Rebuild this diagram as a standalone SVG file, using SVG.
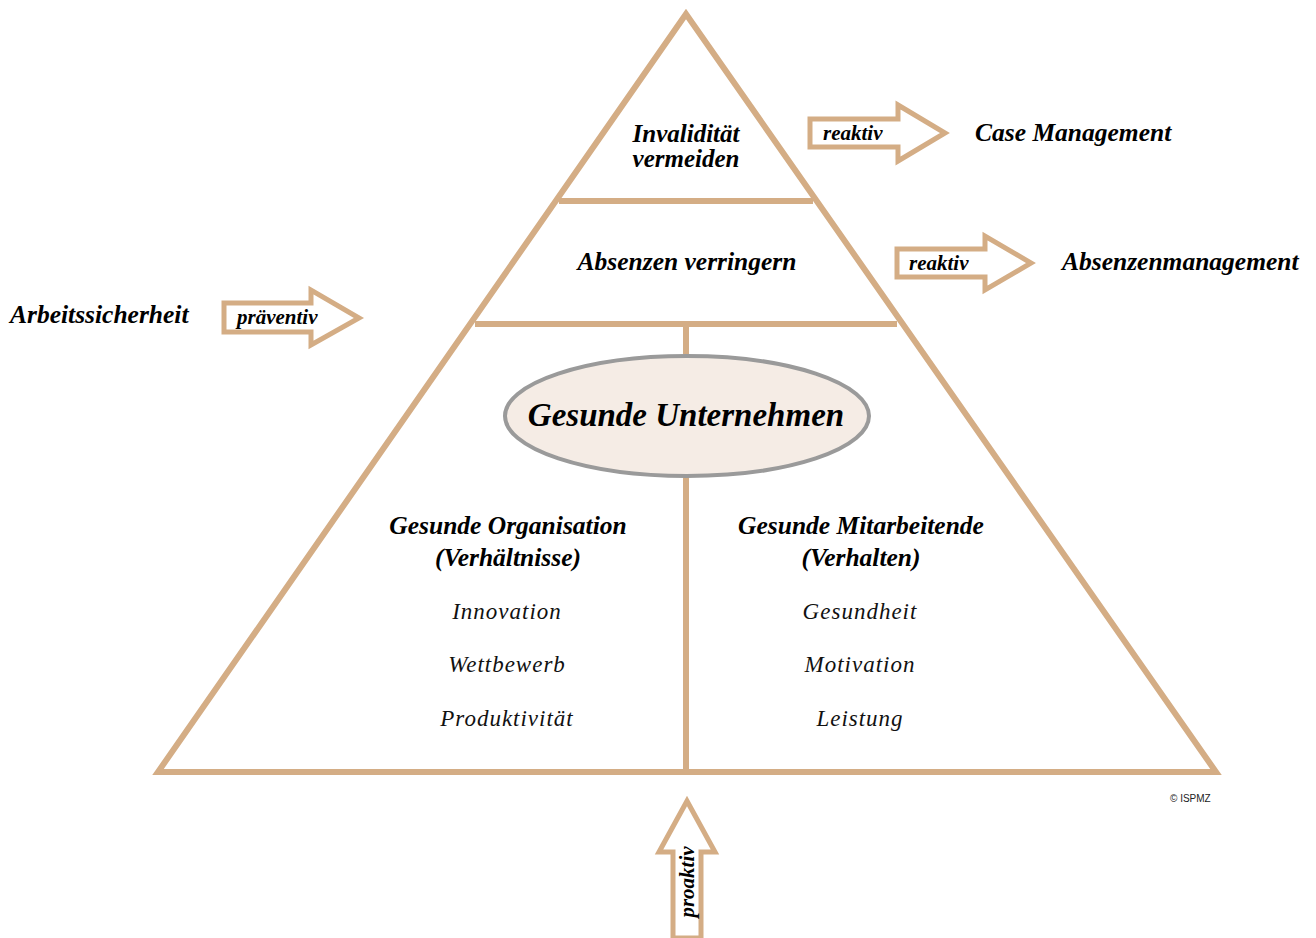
<svg xmlns="http://www.w3.org/2000/svg" width="1316" height="938" viewBox="0 0 1316 938">
<style>
.ln{fill:none;stroke:#D4AD85;stroke-width:6;stroke-linejoin:miter}
.arr{fill:#fff;stroke:#D4AD85;stroke-width:5;stroke-linejoin:miter}
.t{font-family:"Liberation Serif",serif;font-style:italic;font-weight:bold;fill:#000}
.r{font-family:"Liberation Serif",serif;font-style:italic;fill:#111;font-size:23px;letter-spacing:1px;text-anchor:middle}
</style>
<rect width="1316" height="938" fill="#fff"/>
<g id="connectors">
<polygon class="ln" points="686,14 158,772 1216,772"/>
<line class="ln" x1="559" y1="201" x2="813" y2="201"/>
<line class="ln" x1="475" y1="324" x2="897" y2="324"/>
<line class="ln" x1="686" y1="324" x2="686" y2="358"/>
<line class="ln" x1="686" y1="476" x2="686" y2="772"/>
</g>
<g id="top">
<text class="t" font-size="25" text-anchor="middle" x="686" y="142">Invalidität</text>
<text class="t" font-size="25" text-anchor="middle" x="686" y="167">vermeiden</text>
</g>
<g id="middle">
<text class="t" font-size="25.5" text-anchor="middle" x="687" y="270">Absenzen verringern</text>
</g>
<g id="center">
<ellipse cx="687" cy="416" rx="182" ry="60" fill="#F5ECE5" stroke="#9A9A9A" stroke-width="4"/>
<text class="t" font-size="33" text-anchor="middle" x="686" y="426">Gesunde Unternehmen</text>
</g>
<g id="left-col">
<text class="t" font-size="25.5" text-anchor="middle" x="508" y="534">Gesunde Organisation</text>
<text class="t" font-size="25.5" text-anchor="middle" x="508" y="566">(Verhältnisse)</text>
<text class="r" x="507" y="619">Innovation</text>
<text class="r" x="507" y="672">Wettbewerb</text>
<text class="r" x="507" y="726">Produktivität</text>
</g>
<g id="right-col">
<text class="t" font-size="25.5" text-anchor="middle" x="861" y="534">Gesunde Mitarbeitende</text>
<text class="t" font-size="25.5" text-anchor="middle" x="861" y="566">(Verhalten)</text>
<text class="r" x="860" y="619">Gesundheit</text>
<text class="r" x="860" y="672">Motivation</text>
<text class="r" x="860" y="726">Leistung</text>
</g>
<g id="arrow-reaktiv-1">
<polygon class="arr" points="810,119 898,119 898,105 945,133 898,161 898,147 810,147"/>
<text class="t" font-size="21" x="823" y="140">reaktiv</text>
</g>
<g id="case-management">
<text class="t" font-size="25.5" x="975" y="141">Case Management</text>
</g>
<g id="arrow-reaktiv-2">
<polygon class="arr" points="897,249 985,249 985,236 1031,263 985,290 985,277 897,277"/>
<text class="t" font-size="21" x="909" y="270">reaktiv</text>
</g>
<g id="absenzenmanagement">
<text class="t" font-size="25.5" x="1062" y="270">Absenzenmanagement</text>
</g>
<g id="arbeitssicherheit">
<text class="t" font-size="25.5" x="10" y="323">Arbeitssicherheit</text>
</g>
<g id="arrow-praeventiv">
<polygon class="arr" points="224,303 311,303 311,290 359,318 311,345 311,332 224,332"/>
<text class="t" font-size="21" x="237" y="324">präventiv</text>
</g>
<g id="arrow-proaktiv">
<polygon class="arr" points="673,938 673,852 659,852 687,801 715,852 701,852 701,938"/>
<text class="t" font-size="21" text-anchor="middle" transform="translate(694,882) rotate(-90)">proaktiv</text>
</g>
<g id="copyright">
<text x="1170" y="802" font-family="Liberation Sans Narrow, Liberation Sans, sans-serif" font-size="10" fill="#222">© ISPMZ</text>
</g>
</svg>
